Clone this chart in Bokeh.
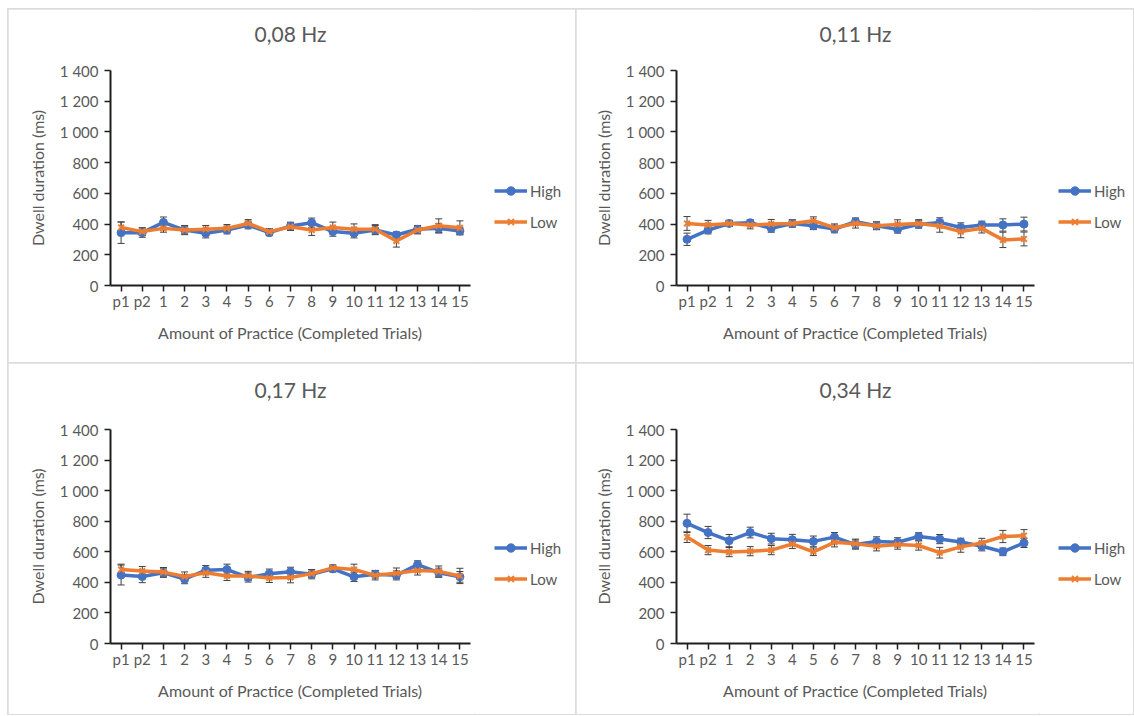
from bokeh.plotting import figure
from bokeh.models import (ColumnDataSource, Range1d, FactorRange, Whisker, TeeHead,
                          Legend, LegendItem, FixedTicker, Title)
from bokeh.layouts import row, column
from bokeh.embed import file_html
from bokeh.resources import INLINE

categories = ["p1", "p2", "1", "2", "3", "4", "5", "6", "7", "8", "9", "10",
              "11", "12", "13", "14", "15"]

titles = ["0,08 Hz", "0,11 Hz", "0,17 Hz", "0,34 Hz"]
series_names = ["High", "Low"]

high_008 = [344, 344, 411, 361, 340, 361, 394, 344, 387, 409, 351, 340, 361, 329, 366, 372, 355]
low_008 = [378, 351, 372, 361, 366, 372, 404, 351, 383, 361, 378, 366, 366, 290, 361, 389, 376]
high_err_008 = [70, 30, 35, 30, 30, 25, 25, 20, 25, 30, 30, 30, 30, 20, 25, 30, 25]
low_err_008 = [35, 25, 25, 25, 25, 25, 25, 20, 25, 35, 35, 35, 30, 40, 25, 45, 45]

high_011 = [301, 361, 404, 409, 372, 404, 389, 368, 415, 389, 366, 398, 411, 378, 394, 394, 400]
low_011 = [404, 394, 404, 394, 400, 404, 422, 376, 404, 389, 398, 404, 387, 351, 372, 297, 303]
high_err_011 = [40, 25, 20, 20, 25, 20, 25, 25, 25, 25, 25, 25, 30, 30, 25, 40, 45]
low_err_011 = [45, 30, 20, 25, 30, 25, 25, 25, 30, 25, 30, 25, 40, 40, 30, 50, 45]

high_017 = [448, 438, 463, 421, 480, 484, 432, 457, 469, 453, 488, 436, 453, 446, 516, 463, 436]
low_017 = [484, 474, 467, 438, 463, 442, 442, 429, 432, 457, 495, 484, 446, 459, 478, 472, 442]
high_err_017 = [65, 40, 30, 30, 30, 35, 30, 30, 30, 30, 20, 30, 25, 30, 25, 30, 35]
low_err_017 = [35, 30, 30, 30, 30, 30, 30, 30, 35, 25, 20, 35, 30, 35, 30, 35, 50]

high_034 = [786, 726, 673, 726, 686, 679, 668, 696, 647, 668, 662, 700, 683, 664, 636, 600, 658]
low_034 = [696, 611, 598, 604, 611, 651, 600, 662, 653, 636, 647, 641, 594, 632, 658, 700, 705]
high_err_034 = [60, 40, 40, 35, 35, 35, 35, 30, 30, 30, 30, 25, 30, 25, 30, 25, 30]
low_err_034 = [35, 30, 30, 30, 30, 30, 25, 30, 30, 30, 30, 30, 35, 35, 30, 40, 40]

y_ticks = [0, 200, 400, 600, 800, 1000, 1200, 1400]
y_tick_labels = ["0", "200", "400", "600", "800", "1 000", "1 200", "1 400"]

BLUE = "#4472C4"
ORANGE = "#ED7D31"
GREY_TXT = "#595959"
FONT = "Lato"
NAN = float("nan")


def make_panel(title, high, low, high_err, low_err, fw, fh, left, top, bottom,
               leg_w, spacer_h, legend_y):
    height = top + fh + bottom
    p = figure(x_range=FactorRange(factors=categories), y_range=Range1d(0, 1400),
               frame_width=fw, frame_height=fh, output_backend="svg",
               toolbar_location=None, min_border_left=left, min_border_right=5,
               min_border_top=top, min_border_bottom=bottom)
    p.outline_line_color = None
    p.xgrid.visible = False
    p.ygrid.visible = False

    # spacer title (closest to the frame) then the real title above it
    p.add_layout(Title(text=" ", text_font_size="1px", standoff=spacer_h), "above")
    p.add_layout(Title(text=title, align="center", text_font=FONT,
                       text_font_size="21px", text_font_style="normal",
                       text_color=GREY_TXT, standoff=0), "above")

    src = ColumnDataSource(dict(
        x=categories, high=high, low=low,
        hu=[v + e for v, e in zip(high, high_err)],
        hl=[v - e for v, e in zip(high, high_err)],
        lu=[v + e for v, e in zip(low, low_err)],
        ll=[v - e for v, e in zip(low, low_err)],
    ))

    def whisker(up, lo):
        return Whisker(base="x", upper=up, lower=lo, source=src, dimension="height",
                       line_color="#404040", line_width=1,
                       upper_head=TeeHead(size=7, line_color="#404040", line_width=1),
                       lower_head=TeeHead(size=7, line_color="#404040", line_width=1))

    p.line("x", "high", source=src, color=BLUE, line_width=3.5)
    p.scatter("x", "high", source=src, marker="circle", size=8, color=BLUE)
    p.add_layout(whisker("hu", "hl"))
    p.line("x", "low", source=src, color=ORANGE, line_width=3.5)
    p.scatter("x", "low", source=src, marker="x", size=8,
              line_color=ORANGE, line_width=2)
    p.add_layout(whisker("lu", "ll"))

    yax = p.yaxis[0]
    yax.ticker = FixedTicker(ticks=y_ticks)
    yax.major_label_overrides = {t: s for t, s in zip(y_ticks, y_tick_labels)}
    yax.axis_label = "Dwell duration (ms)"
    xax = p.xaxis[0]
    xax.axis_label = "Amount of Practice (Completed Trials)"
    for ax in (xax, yax):
        ax.axis_line_color = "#1e1e1e"
        ax.axis_line_width = 2
        ax.major_tick_line_color = "#1e1e1e"
        ax.major_tick_line_width = 1.5
        ax.major_tick_out = 6
        ax.major_tick_in = 0
        ax.minor_tick_line_color = None
        ax.major_label_text_font = FONT
        ax.major_label_text_font_size = "15px"
        ax.major_label_text_color = GREY_TXT
        ax.axis_label_text_font = FONT
        ax.axis_label_text_font_size = "16px"
        ax.axis_label_text_font_style = "normal"
        ax.axis_label_text_color = GREY_TXT
    yax.major_label_standoff = 6
    yax.axis_label_standoff = 10
    xax.major_label_standoff = 0
    xax.axis_label_standoff = 10
    xax.major_label_orientation = "horizontal"

    # legend lives in a small companion figure to the right of the chart
    # (its frame is aligned with the chart's frame by the row layout)
    lf = figure(width=leg_w, height=height, x_range=Range1d(0, 1), y_range=Range1d(0, 1),
                x_axis_type=None, y_axis_type=None, toolbar_location=None,
                output_backend="svg", min_border=0)
    lf.outline_line_color = None
    proxy = ColumnDataSource(dict(x=[NAN], y=[NAN]))
    lh = lf.line("x", "y", source=proxy, color=BLUE, line_width=3.5)
    sh = lf.scatter("x", "y", source=proxy, marker="circle", size=8, color=BLUE)
    ll_ = lf.line("x", "y", source=proxy, color=ORANGE, line_width=3.5)
    sl = lf.scatter("x", "y", source=proxy, marker="x", size=8,
                    line_color=ORANGE, line_width=2)
    legend = Legend(items=[LegendItem(label=series_names[0], renderers=[lh, sh]),
                           LegendItem(label=series_names[1], renderers=[ll_, sl])],
                    location=(19, legend_y), orientation="vertical",
                    border_line_color=None, background_fill_alpha=0,
                    padding=0, margin=0, spacing=10, glyph_width=33,
                    glyph_height=21, label_height=21, label_standoff=3,
                    label_text_font=FONT, label_text_font_size="15px",
                    label_text_color=GREY_TXT)
    lf.add_layout(legend)

    panel = row(p, lf, spacing=0)
    panel.styles = {"outline": "2px solid #dcdcdc", "outline-offset": "-1px"}
    return panel


a = make_panel(titles[0], high_008, low_008, high_err_008, low_err_008,
               360, 215, 102, 61, 78, 101, 22, 53)
b = make_panel(titles[1], high_011, low_011, high_err_011, low_err_011,
               358, 215, 100, 61, 78, 94, 22, 53)
c = make_panel(titles[2], high_017, low_017, high_err_017, low_err_017,
               360, 214, 102, 66, 71, 101, 25, 54)
d = make_panel(titles[3], high_034, low_034, high_err_034, low_err_034,
               358, 214, 100, 66, 71, 94, 25, 54)

layout = column(row(a, b, spacing=0), row(c, d, spacing=0), spacing=0)
layout.margin = (9, 0, 0, 8)
open("out.html", "w").write(file_html(layout, INLINE))
